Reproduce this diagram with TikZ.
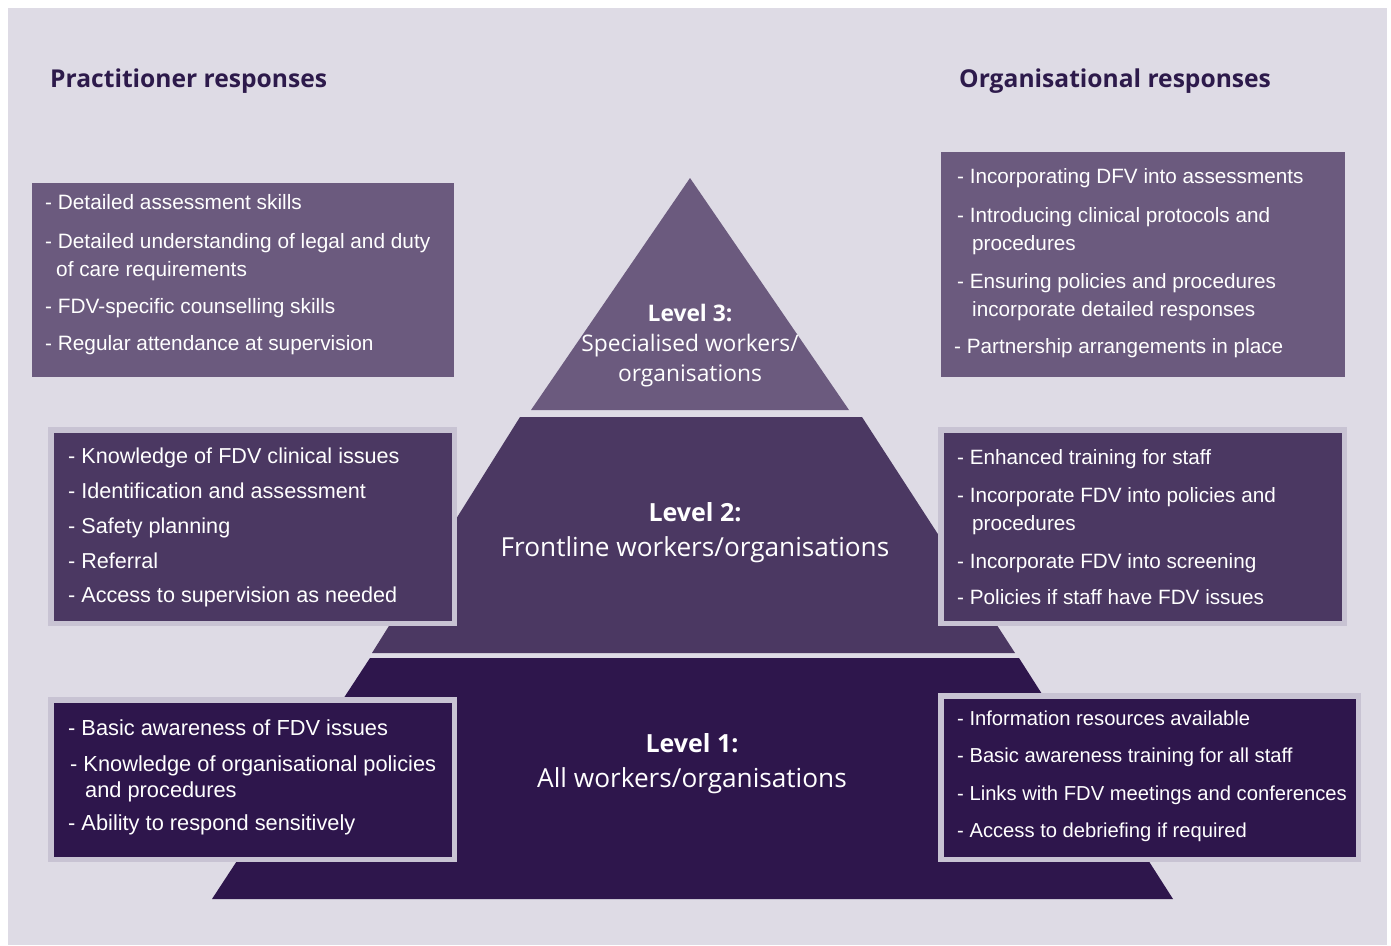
\documentclass[tikz,border=0pt]{standalone}
\usepackage{fontspec}
\setmainfont{Liberation Sans}
\newfontfamily\headfont{Open Sans}
\definecolor{bgc}{HTML}{DEDBE5}
\definecolor{lvthree}{HTML}{6B5A7E}
\definecolor{lvtwo}{HTML}{4B3862}
\definecolor{lvone}{HTML}{2E164C}
\definecolor{rim}{HTML}{C8C3D3}
\definecolor{titlec}{HTML}{2D1A4B}
\begin{document}
\begin{tikzpicture}[x=1pt,y=-1pt,
  item/.style={anchor=base west, inner sep=0pt, text=white, font=\fontsize{#1}{26}\selectfont},
  item/.default=21.5,
  lvlbold/.style={anchor=base, inner sep=0pt, text=white, font=\headfont\bfseries\fontsize{#1}{28}\selectfont},
  lvltext/.style={anchor=base, inner sep=0pt, text=white, font=\headfont\fontsize{#1}{28}\selectfont},
  heading/.style={anchor=base west, inner sep=0pt, text=titlec, font=\headfont\bfseries\fontsize{24.6}{28}\selectfont},
  plainbox/.style={rectangle, inner sep=0pt, outer sep=0pt, fill=lvthree},
  rimbox/.style={rectangle, inner sep=0pt, outer sep=0pt, draw=rim, line width=5.5pt}
]
\useasboundingbox (0,0) rectangle (1391,945);
\fill[white] (0,0) rectangle (1391,945);
\fill[bgc] (8,8) rectangle (1387,945);

% pyramid layers
\fill[lvthree] (690,178) -- (849,410) -- (531,410) -- cycle;
\fill[lvtwo] (520,417) -- (862,417) -- (1015,653) -- (372,653) -- cycle;
\fill[lvone] (370,658) -- (1019,658) -- (1173,899) -- (212,899) -- cycle;

% boxes
\node[plainbox, minimum width=422, minimum height=194] (b3l) at (243,280) {};
\node[plainbox, minimum width=404, minimum height=225] (b3r) at (1143,264.5) {};
\node[rimbox, fill=lvtwo, minimum width=403.5, minimum height=193.5] (b2l) at (252.5,526.5) {};
\node[rimbox, fill=lvtwo, minimum width=403.5, minimum height=193.5] (b2r) at (1142.5,526.5) {};
\node[rimbox, fill=lvone, minimum width=403.5, minimum height=159.5] (b1l) at (252.5,779.5) {};
\node[rimbox, fill=lvone, minimum width=417.5, minimum height=163.5] (b1r) at (1149.5,777.5) {};

% headings
\node[heading] (hp) at (50,87) {Practitioner responses};
\node[heading] (ho) at (959,87) {Organisational responses};

% level labels
\node[lvlbold=22.8] (l3a) at (690,321) {Level 3:};
\node[lvltext=22.8] (l3b) at (690,351) {Specialised workers/};
\node[lvltext=22.8] (l3c) at (690,381) {organisations};
\node[lvlbold=25] (l2a) at (695,521) {Level 2:};
\node[lvltext=26.2] (l2b) at (695,556) {Frontline workers/organisations};
\node[lvlbold=25] (l1a) at (692,752) {Level 1:};
\node[lvltext=26.2] (l1b) at (692,787) {All workers/organisations};

% level 3 practitioner
\foreach \x/\y/\t [count=\i] in {
  45/209/{- Detailed assessment skills},
  45/248/{- Detailed understanding of legal and duty},
  56/276/{of care requirements},
  45/313/{- FDV-specific counselling skills},
  45/350.5/{- Regular attendance at supervision}}
  \node[item=20.8] (pt\i) at (\x,\y) {\t};

% level 3 organisational
\foreach \x/\y/\t [count=\i] in {
  957/183/{- Incorporating DFV into assessments},
  957/222/{- Introducing clinical protocols and},
  972/250/{procedures},
  957/288/{- Ensuring policies and procedures},
  972/316/{incorporate detailed responses},
  954/353/{- Partnership arrangements in place}}
  \node[item=20.7] (ot\i) at (\x,\y) {\t};

% level 2 practitioner
\foreach \x/\y/\t [count=\i] in {
  68/463/{- Knowledge of FDV clinical issues},
  68/498/{- Identification and assessment},
  68/533/{- Safety planning},
  68/568/{- Referral},
  68/602/{- Access to supervision as needed}}
  \node[item=21.6] (pm\i) at (\x,\y) {\t};

% level 2 organisational
\foreach \x/\y/\t [count=\i] in {
  957/464/{- Enhanced training for staff},
  957/502/{- Incorporate FDV into policies and},
  972/530/{procedures},
  957/568/{- Incorporate FDV into screening},
  957/604/{- Policies if staff have FDV issues}}
  \node[item=20.7] (om\i) at (\x,\y) {\t};

% level 1 practitioner
\foreach \x/\y/\t [count=\i] in {
  68/735/{- Basic awareness of FDV issues},
  70/771/{- Knowledge of organisational policies},
  85/797/{and procedures},
  68/830/{- Ability to respond sensitively}}
  \node[item=21.8] (pb\i) at (\x,\y) {\t};

% level 1 organisational
\foreach \x/\y/\t [count=\i] in {
  957/725/{- Information resources available},
  957/762/{- Basic awareness training for all staff},
  957/800/{- Links with FDV meetings and conferences},
  957/837/{- Access to debriefing if required}}
  \node[item=20.2] (ob\i) at (\x,\y) {\t};
\end{tikzpicture}
\end{document}
